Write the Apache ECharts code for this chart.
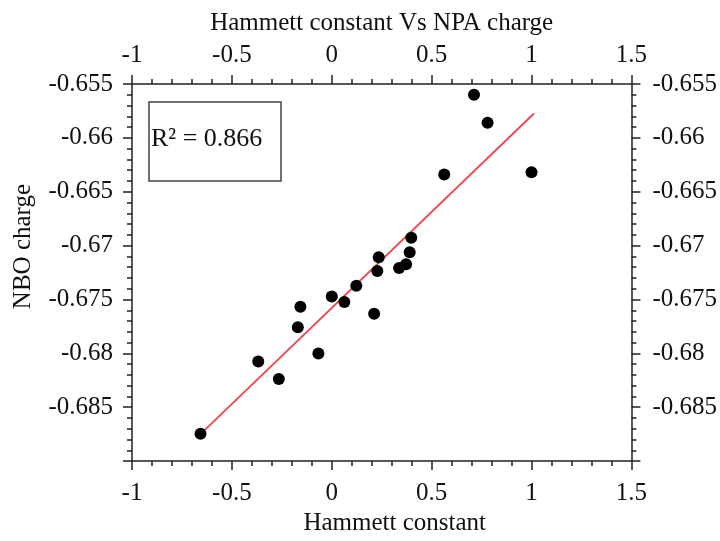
<!DOCTYPE html>
<html>
<head>
<meta charset="utf-8">
<script src="https://cdn.jsdelivr.net/npm/echarts@6/dist/echarts.min.js"></script>
<style>html,body{margin:0;padding:0;background:#fff}#c{width:720px;height:541px}</style>
</head>
<body>
<div id="c"></div>
<script>
// Data
const hammett = [-0.657, -0.368, -0.265, -0.17, -0.157, -0.067, 0.0, 0.063, 0.123, 0.212, 0.228, 0.235, 0.337, 0.372, 0.39, 0.398, 0.563, 0.712, 0.78, 1.0];
const nboCharge = [-0.68747, -0.68075, -0.68238, -0.67758, -0.67568, -0.68002, -0.67472, -0.67523, -0.67372, -0.67632, -0.67236, -0.67107, -0.67207, -0.67173, -0.67062, -0.66926, -0.66341, -0.65599, -0.65859, -0.6632];
const fitX = [-0.657, 1.012];
const fitY = [-0.6875, -0.65774];
const r2Text = 'R² = 0.866';
const xTitle = 'Hammett constant';
const topTitle = 'Hammett constant Vs NPA charge';
const yTitle = 'NBO charge';

const FONT = '"Liberation Serif", "Times New Roman", serif';
const axisColor = '#222';

const points = hammett.map((x, i) => [x, nboCharge[i]]);
const fitLine = fitX.map((x, i) => [x, fitY[i]]);

function xAxisCfg(pos, name, gap, pad, margin) {
  return {
    type: 'value', position: pos, min: -1, max: 1.5, interval: 0.5,
    name: name, nameLocation: 'middle', nameGap: gap,
    nameTextStyle: {fontFamily: FONT, fontSize: 25, color: '#111', padding: pad},
    axisLine: {show: true, onZero: false, lineStyle: {color: axisColor, width: 1.5}},
    axisTick: {show: true, inside: false, length: 9, lineStyle: {color: axisColor, width: 1.5}},
    minorTick: {show: true, splitNumber: 5, length: 5, lineStyle: {color: axisColor, width: 1.5}},
    splitLine: {show: false},
    axisLabel: {fontFamily: FONT, fontSize: 25, color: '#111', margin: margin,
      formatter: v => String(parseFloat(v.toFixed(2)))}
  };
}
function yAxisCfg(pos, name, margin) {
  return {
    type: 'value', position: pos, min: -0.69, max: -0.655, interval: 0.005,
    name: name, nameLocation: 'middle', nameGap: 96,
    nameTextStyle: {fontFamily: FONT, fontSize: 25, color: '#111', padding: [0, 0, 0, 52]},
    axisLine: {show: true, onZero: false, lineStyle: {color: axisColor, width: 1.5}},
    axisTick: {show: true, inside: false, length: 9, lineStyle: {color: axisColor, width: 1.5}},
    minorTick: {show: true, splitNumber: 5, length: 5, lineStyle: {color: axisColor, width: 1.5}},
    splitLine: {show: false},
    axisLabel: {fontFamily: FONT, fontSize: 25, color: '#111', margin: margin,
      formatter: v => (Math.abs(v + 0.69) < 1e-9 ? '' : String(parseFloat(v.toFixed(3))))}
  };
}

const chart = echarts.init(document.getElementById('c'), null, {renderer: 'canvas'});
chart.setOption({
  animation: false,
  backgroundColor: '#fff',
  grid: {left: 132, right: 88, top: 84, bottom: 70},
  xAxis: [xAxisCfg('bottom', xTitle, 38, [0, 0, 0, 26], 20), xAxisCfg('top', topTitle, 48, 0, 16)],
  yAxis: [yAxisCfg('left', yTitle, 19), yAxisCfg('right', '', 21)],
  graphic: [
    {type: 'rect', shape: {x: 149, y: 102, width: 132, height: 79},
     style: {fill: '#fff', stroke: '#444', lineWidth: 1.5}, z: 10},
    {type: 'text', x: 151, y: 139, z: 11,
     style: {text: r2Text, fontFamily: FONT, fontSize: 26, fill: '#111', verticalAlign: 'middle', align: 'left'}}
  ],
  series: [
    {type: 'line', data: fitLine, xAxisIndex: 0, yAxisIndex: 0, showSymbol: false, symbol: 'none',
     lineStyle: {color: '#ee4550', width: 1.8}, z: 2},
    {type: 'scatter', data: points, xAxisIndex: 0, yAxisIndex: 0, symbol: 'circle', symbolSize: 12,
     itemStyle: {color: '#000', opacity: 1}, z: 3}
  ]
});
</script>
</body>
</html>
